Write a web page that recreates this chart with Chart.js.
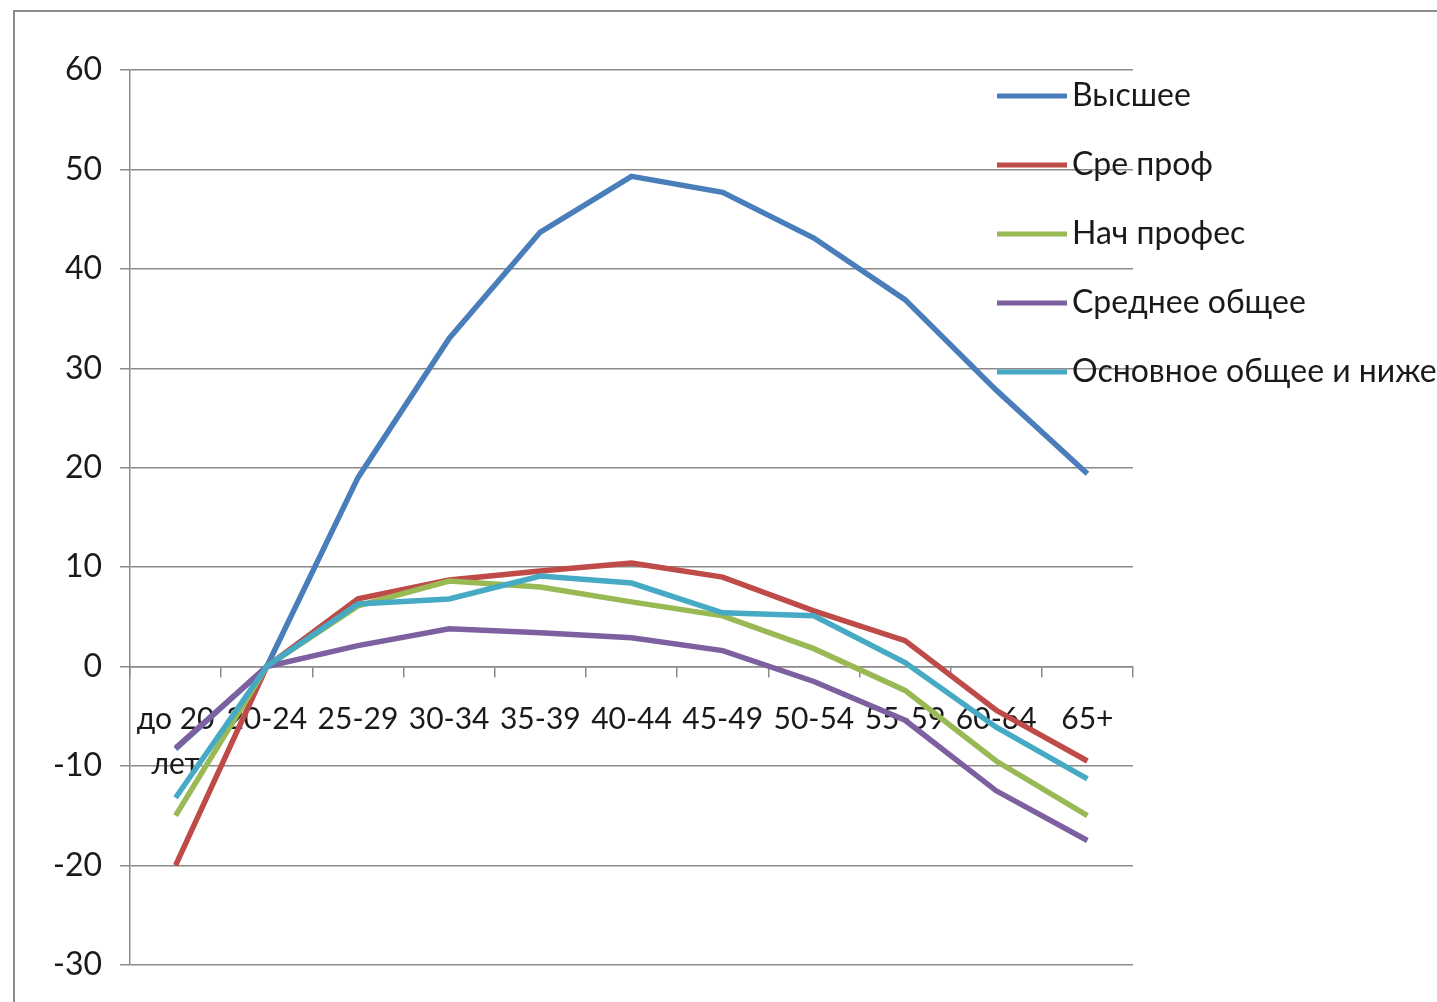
<!DOCTYPE html>
<html>
<head>
<meta charset="utf-8">
<script src="https://cdn.jsdelivr.net/npm/chart.js@4"></script>
<style>
  html, body { margin: 0; padding: 0; background: #fff; }
  #wrap { position: relative; width: 1437px; height: 1002px; overflow: hidden; }
  #frame { position: absolute; left: 13px; top: 10px; width: 1440px; height: 1000px;
           border-left: 2px solid #8c8c8c; border-top: 2px solid #8c8c8c; }
  canvas { position: absolute; left: 0; top: 0; }
</style>
</head>
<body>
<div id="wrap">
  <div id="frame"></div>
  <canvas id="chart" width="1437" height="1002"></canvas>
</div>
<script>
const ageGroups = [['до 20', 'лет'], '20-24', '25-29', '30-34', '35-39', '40-44', '45-49', '50-54', '55-59', '60-64', '65+'];
const seriesNames = ['Высшее', 'Сре проф', 'Нач профес', 'Среднее общее', 'Основное общее и ниже'];
const seriesColors = ['#4a7ebb', '#be4b48', '#98b954', '#7d60a0', '#46aac5'];

const higher = [-8.3, 0, 19.0, 33.0, 43.7, 49.3, 47.7, 43.1, 36.9, 27.8, 19.4];
const secondaryProf = [-20.0, 0, 6.8, 8.7, 9.6, 10.4, 9.0, 5.6, 2.6, -4.4, -9.5];
const primaryProf = [-15.0, 0, 6.1, 8.6, 8.0, 6.5, 5.1, 1.8, -2.4, -9.5, -15.0];
const generalSecondary = [-8.2, 0, 2.1, 3.8, 3.4, 2.9, 1.6, -1.5, -5.4, -12.5, -17.5];
const basicAndBelow = [-13.2, 0, 6.3, 6.8, 9.1, 8.4, 5.4, 5.1, 0.4, -6.1, -11.3];

const yMin = -30;
const yMax = 60;
const yStep = 10;

const FONT = 'Lato, "Noto Sans", sans-serif';
const GRID = '#8a8a8a';

const allSeries = [higher, secondaryProf, primaryProf, generalSecondary, basicAndBelow];

// legend sits over the plot, like in the original
const sideLegend = {
  id: 'sideLegend',
  afterDraw(chart) {
    const ctx = chart.ctx;
    ctx.save();
    ctx.font = '32px ' + FONT;
    ctx.textBaseline = 'middle';
    chart.data.datasets.forEach((ds, i) => {
      const y = 96 + i * 69;
      ctx.strokeStyle = ds.borderColor;
      ctx.lineWidth = 5;
      ctx.beginPath();
      ctx.moveTo(997, y);
      ctx.lineTo(1067, y);
      ctx.stroke();
      ctx.fillStyle = '#1a1a1a';
      ctx.fillText(ds.label, 1072, y);
    });
    ctx.restore();
  }
};

new Chart(document.getElementById('chart'), {
  type: 'line',
  data: {
    labels: ageGroups,
    datasets: allSeries.map((values, i) => ({
      label: seriesNames[i],
      data: values,
      borderColor: seriesColors[i],
      backgroundColor: seriesColors[i],
      borderWidth: 5.5,
      pointRadius: 0,
      tension: 0,
      order: allSeries.length - i
    }))
  },
  options: {
    responsive: false,
    animation: false,
    layout: { padding: { top: 70, right: 304, bottom: 37, left: 0 } },
    plugins: {
      legend: { display: false },
      tooltip: { enabled: false }
    },
    scales: {
      x: {
        position: { y: 0 },
        offset: true,
        grid: { drawOnChartArea: false, drawTicks: true, tickLength: 10, color: GRID, lineWidth: 1.5, offset: true },
        border: { color: GRID, width: 1.5 },
        ticks: { font: { family: FONT, size: 30, lineHeight: 1.5 }, color: '#1a1a1a', padding: 20, maxRotation: 0, autoSkip: false }
      },
      y: {
        min: yMin,
        max: yMax,
        afterFit(scale) { scale.width = 130; },
        grid: { color: GRID, lineWidth: 1.5, tickLength: 10 },
        border: { color: GRID, width: 1.5 },
        ticks: { stepSize: yStep, font: { family: FONT, size: 32 }, color: '#1a1a1a', padding: 18 }
      }
    }
  },
  plugins: [sideLegend]
});
</script>
</body>
</html>
